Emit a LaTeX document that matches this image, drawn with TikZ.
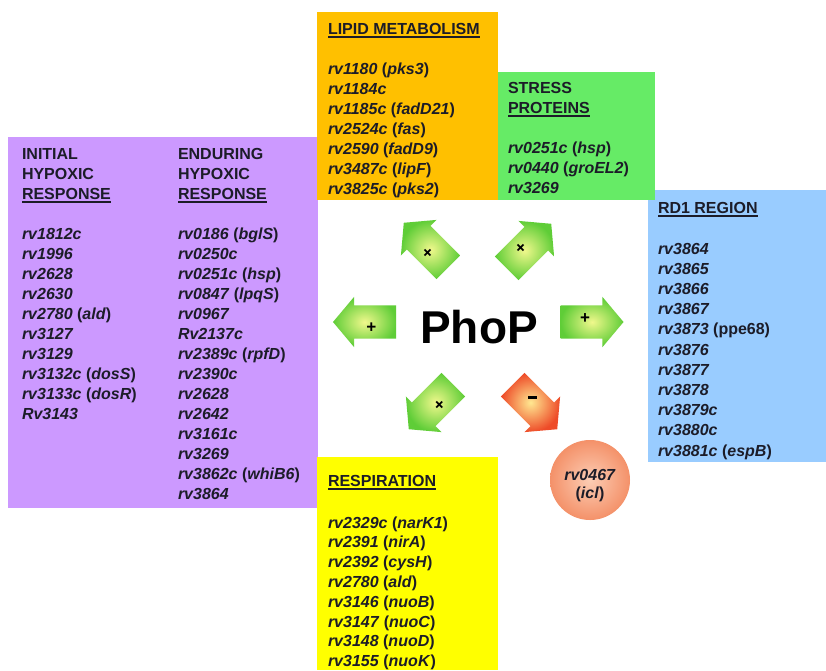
\documentclass[tikz,border=0pt]{standalone}
\usepackage{fontspec}
\setmainfont{Liberation Sans}
\usetikzlibrary{shapes.arrows}
\definecolor{cpurple}{RGB}{204,153,255}
\definecolor{corange}{RGB}{255,192,0}
\definecolor{cgreen}{RGB}{102,235,102}
\definecolor{cblue}{RGB}{153,204,255}
\definecolor{cyellow}{RGB}{255,255,0}
\definecolor{ctext}{RGB}{28,28,40}
\definecolor{garin}{RGB}{240,248,140}
\definecolor{garout}{RGB}{95,205,55}
\definecolor{rarin}{RGB}{255,232,145}
\definecolor{rarout}{RGB}{238,75,40}
\definecolor{cirin}{RGB}{252,205,180}
\definecolor{cirout}{RGB}{244,145,105}
\newcommand\hdul[1]{\leavevmode\vtop{\hbox{#1}\kern2pt\hrule height1.6pt}}
\newcommand\gi[1]{\textit{#1}}
\tikzset{
  txt/.style={anchor=base west, inner sep=0pt, outer sep=0pt, text=ctext,
    font=\fontsize{16}{20}\selectfont\bfseries},
  parrow/.style={single arrow, draw=none, minimum height=63pt,
    inner xsep=4pt, inner ysep=12.5pt, text height=5pt, text depth=3pt,
    single arrow head extend=8.5pt, single arrow tip angle=100,
    font=\fontsize{17}{17}\selectfont\bfseries, text=black, shading=radial},
  garrow/.style={parrow, inner color=garin, outer color=garout},
  rarrow/.style={parrow, inner color=rarin, outer color=rarout},
}
\begin{document}
\begin{tikzpicture}[x=1pt,y=-1pt]
\useasboundingbox[fill=white] (0,0) rectangle (826,670);
% boxes
\fill[cpurple] (8,137) rectangle (318,508);
\fill[corange] (317,12) rectangle (498,200);
\fill[cblue] (648,190) rectangle (826,462);
\fill[cgreen] (498,72) rectangle (655,200);
\fill[cyellow] (317,457) rectangle (498,670);
% initial hypoxic response
\node[txt] (h1a) at (22,159) {INITIAL};
\node[txt] (h1b) at (22,179) {HYPOXIC};
\node[txt] (h1c) at (22,199) {\hdul{RESPONSE}};
\foreach \t [count=\i from 0] in {\gi{rv1812c},\gi{rv1996},\gi{rv2628},\gi{rv2630},
  \gi{rv2780} (\gi{ald}),\gi{rv3127},\gi{rv3129},\gi{rv3132c} (\gi{dosS}),
  \gi{rv3133c} (\gi{dosR}),\gi{Rv3143}}
  \node[txt, name=ini\i] at (22,239+20*\i) {\t};
% enduring hypoxic response
\node[txt] (h2a) at (178,159) {ENDURING};
\node[txt] (h2b) at (178,179) {HYPOXIC};
\node[txt] (h2c) at (178,199) {\hdul{RESPONSE}};
\foreach \t [count=\i from 0] in {\gi{rv0186} (\gi{bglS}),\gi{rv0250c},\gi{rv0251c} (\gi{hsp}),
  \gi{rv0847} (\gi{lpqS}),\gi{rv0967},\gi{Rv2137c},\gi{rv2389c} (\gi{rpfD}),\gi{rv2390c},
  \gi{rv2628},\gi{rv2642},\gi{rv3161c},\gi{rv3269},\gi{rv3862c} (\gi{whiB6}),\gi{rv3864}}
  \node[txt, name=end\i] at (178,239+20*\i) {\t};
% lipid metabolism
\node[txt] (h3) at (328,34) {\hdul{LIPID METABOLISM}};
\foreach \t [count=\i from 0] in {\gi{rv1180} (\gi{pks3}),\gi{rv1184c},\gi{rv1185c} (\gi{fadD21}),
  \gi{rv2524c} (\gi{fas}),\gi{rv2590} (\gi{fadD9}),\gi{rv3487c} (\gi{lipF}),\gi{rv3825c} (\gi{pks2})}
  \node[txt, name=lip\i] at (328,74+20*\i) {\t};
% stress proteins
\node[txt] (h4a) at (508,93) {STRESS};
\node[txt] (h4b) at (508,113) {\hdul{PROTEINS}};
\foreach \t [count=\i from 0] in {\gi{rv0251c} (\gi{hsp}),\gi{rv0440} (\gi{groEL2}),\gi{rv3269}}
  \node[txt, name=str\i] at (508,153+20*\i) {\t};
% RD1 region
\node[txt] (h5) at (658,213) {\hdul{RD1 REGION}};
\foreach \t [count=\i from 0] in {\gi{rv3864},\gi{rv3865},\gi{rv3866},\gi{rv3867},
  \gi{rv3873} (ppe68),\gi{rv3876},\gi{rv3877},\gi{rv3878},\gi{rv3879c},\gi{rv3880c},
  \gi{rv3881c} (\gi{espB})}
  \node[txt, name=rd\i] at (658,254+20.2*\i) {\t};
% respiration
\node[txt] (h6) at (328,486) {\hdul{RESPIRATION}};
\foreach \t [count=\i from 0] in {\gi{rv2329c} (\gi{narK1}),\gi{rv2391} (\gi{nirA}),
  \gi{rv2392} (\gi{cysH}),\gi{rv2780} (\gi{ald}),\gi{rv3146} (\gi{nuoB}),
  \gi{rv3147} (\gi{nuoC}),\gi{rv3148} (\gi{nuoD}),\gi{rv3155} (\gi{nuoK})}
  \node[txt, name=res\i] at (328,528+19.8*\i) {\t};
% icl circle
\node[circle, minimum size=80pt, inner sep=0pt, shading=radial,
  inner color=cirin, outer color=cirout] (icl) at (590,480) {};
\node[align=center, inner sep=0pt, text=ctext,
  font=\fontsize{16}{18}\selectfont\bfseries] (icltxt) at (590,486) {\gi{rv0467}\\(\gi{icl})};
% PhoP
\node[anchor=base, inner sep=0pt, font=\fontsize{46}{46}\selectfont\bfseries] (phop) at (479,343) {PhoP};
% arrows
\node[garrow, rotate=180] (aleft) at (371.5,322) {+};
\node[garrow] (aright) at (585,322) {+};
\node[garrow, rotate=135] (aul) at (431,250) {+};
\node[garrow, rotate=45] (aur) at (524,251) {+};
\node[garrow, rotate=225] (all) at (436,402) {+};
\node[rarrow, rotate=-45] (alr) at (530,402) {\rotatebox{45}{\rule[3pt]{9pt}{2.5pt}}};
\end{tikzpicture}
\end{document}
